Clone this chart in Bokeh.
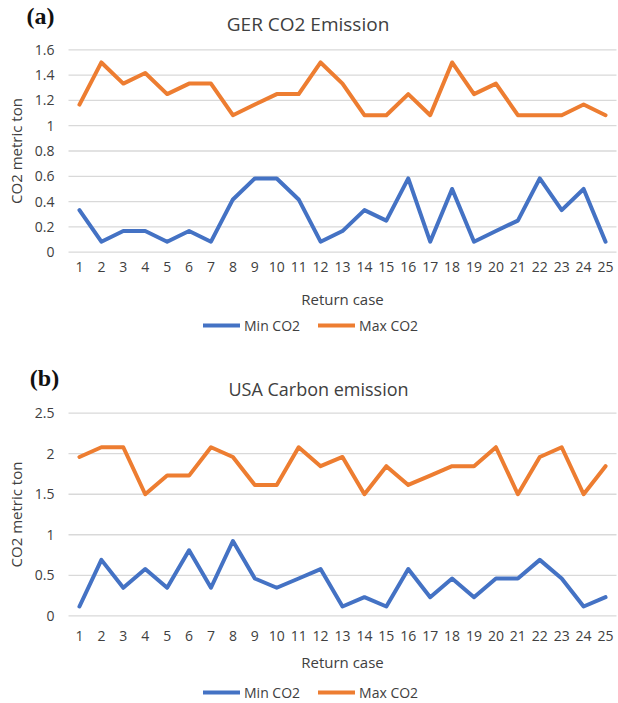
from bokeh.plotting import figure
from bokeh.models import Legend, LegendItem, Label, FixedTicker, Range1d
from bokeh.layouts import column
from bokeh.embed import file_html
from bokeh.resources import INLINE

# ---------------- data ----------------
cases = list(range(1, 26))
case_labels = [str(c) for c in cases]

ger_min = [0.333, 0.083, 0.167, 0.167, 0.083, 0.167, 0.083, 0.417, 0.583, 0.583,
           0.417, 0.083, 0.167, 0.333, 0.25, 0.583, 0.083, 0.5, 0.083, 0.167,
           0.25, 0.583, 0.333, 0.5, 0.083]
ger_max = [1.167, 1.5, 1.333, 1.417, 1.25, 1.333, 1.333, 1.083, 1.167, 1.25,
           1.25, 1.5, 1.333, 1.083, 1.083, 1.25, 1.083, 1.5, 1.25, 1.333,
           1.083, 1.083, 1.083, 1.167, 1.083]

usa_min = [0.115, 0.69, 0.346, 0.577, 0.346, 0.808, 0.346, 0.923, 0.46, 0.346,
           0.46, 0.577, 0.115, 0.23, 0.115, 0.577, 0.23, 0.46, 0.23, 0.46,
           0.46, 0.69, 0.46, 0.115, 0.23]
usa_max = [1.96, 2.08, 2.08, 1.5, 1.73, 1.73, 2.08, 1.96, 1.615, 1.615,
           2.08, 1.846, 1.96, 1.5, 1.846, 1.615, 1.73, 1.846, 1.846, 2.08,
           1.5, 1.96, 2.08, 1.5, 1.846]

ger_yticks = [0, 0.2, 0.4, 0.6, 0.8, 1.0, 1.2, 1.4, 1.6]
ger_ytick_labels = ["0", "0.2", "0.4", "0.6", "0.8", "1", "1.2", "1.4", "1.6"]
usa_yticks = [0, 0.5, 1.0, 1.5, 2.0, 2.5]
usa_ytick_labels = ["0", "0.5", "1", "1.5", "2", "2.5"]

series_names = ["Min CO2", "Max CO2"]
panel_letters = ["(a)", "(b)"]
titles = ["GER  CO2 Emission", "USA Carbon emission"]
y_label = "CO2 metric ton"
x_label = "Return case"

# ---------------- style / layout (pixels) ----------------
BLUE = "#4472C4"
ORANGE = "#ED7D31"
GRID = "#D9D9D9"
TXT = "#404040"
FONT = "Open Sans"
W = 618
PLOT_L, PLOT_R = 68.0, 616.0       # plot area left / right edge (px)


def make_panel(letter, title, ymin_vals, ymax_vals, yticks, ylabels, height,
               plot_top, plot_bottom, letter_xy, title_xy, title_size, legend_xy,
               x_standoff, xlabel_standoff):
    # the whole canvas is the frame; ranges chosen so the plot area lands at the given pixels
    x0, x1 = cases[0] - 0.5, cases[-1] + 0.5
    pxu = (PLOT_R - PLOT_L) / (x1 - x0)
    xr = Range1d(x0 - PLOT_L / pxu, x1 + (W - PLOT_R) / pxu)
    y0, y1 = yticks[0], yticks[-1]
    pyu = (plot_bottom - plot_top) / (y1 - y0)
    yr = Range1d(y0 - (height - plot_bottom) / pyu, y1 + plot_top / pyu)

    p = figure(width=W, height=height, output_backend="svg", toolbar_location=None,
               title=None, x_range=xr, y_range=yr,
               min_border=0, min_border_left=0, min_border_right=0,
               min_border_top=0, min_border_bottom=0)
    p.outline_line_color = None
    p.grid.visible = False

    # horizontal gridlines across the plot area
    p.segment(x0=[x0] * len(yticks), x1=[x1] * len(yticks), y0=yticks, y1=yticks,
              line_color=GRID, line_width=1.3)

    yax = p.yaxis[0]
    xax = p.xaxis[0]
    yax.fixed_location = x0
    xax.fixed_location = y0
    yax.bounds = (y0, y1)
    xax.bounds = (x0, x1)
    yax.ticker = FixedTicker(ticks=yticks)
    yax.major_label_overrides = {t: l for t, l in zip(yticks, ylabels)}
    xax.ticker = FixedTicker(ticks=cases)
    xax.major_label_overrides = {c: l for c, l in zip(cases, case_labels)}
    for ax in (xax, yax):
        ax.axis_line_color = None
        ax.major_tick_line_color = None
        ax.minor_tick_line_color = None
        ax.major_tick_out = 0
        ax.major_tick_in = 0
        ax.minor_tick_out = 0
        ax.minor_tick_in = 0
        ax.major_label_text_font = FONT
        ax.major_label_text_font_size = "14px"
        ax.major_label_text_color = TXT
        ax.axis_label_text_font = FONT
        ax.axis_label_text_font_size = "15px"
        ax.axis_label_text_font_style = "normal"
        ax.axis_label_text_color = TXT
    yax.axis_label = y_label
    yax.major_label_standoff = 14
    yax.axis_label_standoff = 6
    xax.axis_label = x_label
    xax.major_label_standoff = x_standoff
    xax.axis_label_standoff = xlabel_standoff

    r_min = p.line(cases, ymin_vals, line_color=BLUE, line_width=4,
                   line_join="round", line_cap="round")
    r_max = p.line(cases, ymax_vals, line_color=ORANGE, line_width=4,
                   line_join="round", line_cap="round")

    legend = Legend(items=[LegendItem(label=series_names[0], renderers=[r_min]),
                           LegendItem(label=series_names[1], renderers=[r_max])],
                    orientation="horizontal",
                    location=(legend_xy[0], height - legend_xy[1]),
                    border_line_color=None, background_fill_alpha=0,
                    padding=0, margin=0, spacing=18, label_standoff=4,
                    glyph_width=37, glyph_height=20, label_height=20,
                    label_text_font=FONT, label_text_font_size="14px",
                    label_text_color=TXT)
    p.add_layout(legend, "center")

    p.add_layout(Label(x=letter_xy[0], y=height - letter_xy[1],
                       x_units="screen", y_units="screen", text=letter,
                       text_align="center", text_baseline="middle",
                       text_font="Liberation Serif", text_font_style="bold",
                       text_font_size="24px", text_color="#111111"))
    p.add_layout(Label(x=title_xy[0], y=height - title_xy[1],
                       x_units="screen", y_units="screen", text=title,
                       text_align="center", text_baseline="middle",
                       text_font=FONT, text_font_size=title_size, text_color=TXT))
    return p


p1 = make_panel(panel_letters[0], titles[0], ger_min, ger_max, ger_yticks, ger_ytick_labels,
                height=350, plot_top=49.3, plot_bottom=251.7,
                letter_xy=(40, 15), title_xy=(310, 23), title_size="19px",
                legend_xy=(203, 335), x_standoff=10, xlabel_standoff=13)
p2 = make_panel(panel_letters[1], titles[1], usa_min, usa_max, usa_yticks, usa_ytick_labels,
                height=353, plot_top=62.7, plot_bottom=265.3,
                letter_xy=(44, 27), title_xy=(318, 38), title_size="18px",
                legend_xy=(203, 352), x_standoff=15, xlabel_standoff=8)

layout = column(p1, p2, spacing=0)
open("out.html", "w").write(file_html(layout, INLINE))
